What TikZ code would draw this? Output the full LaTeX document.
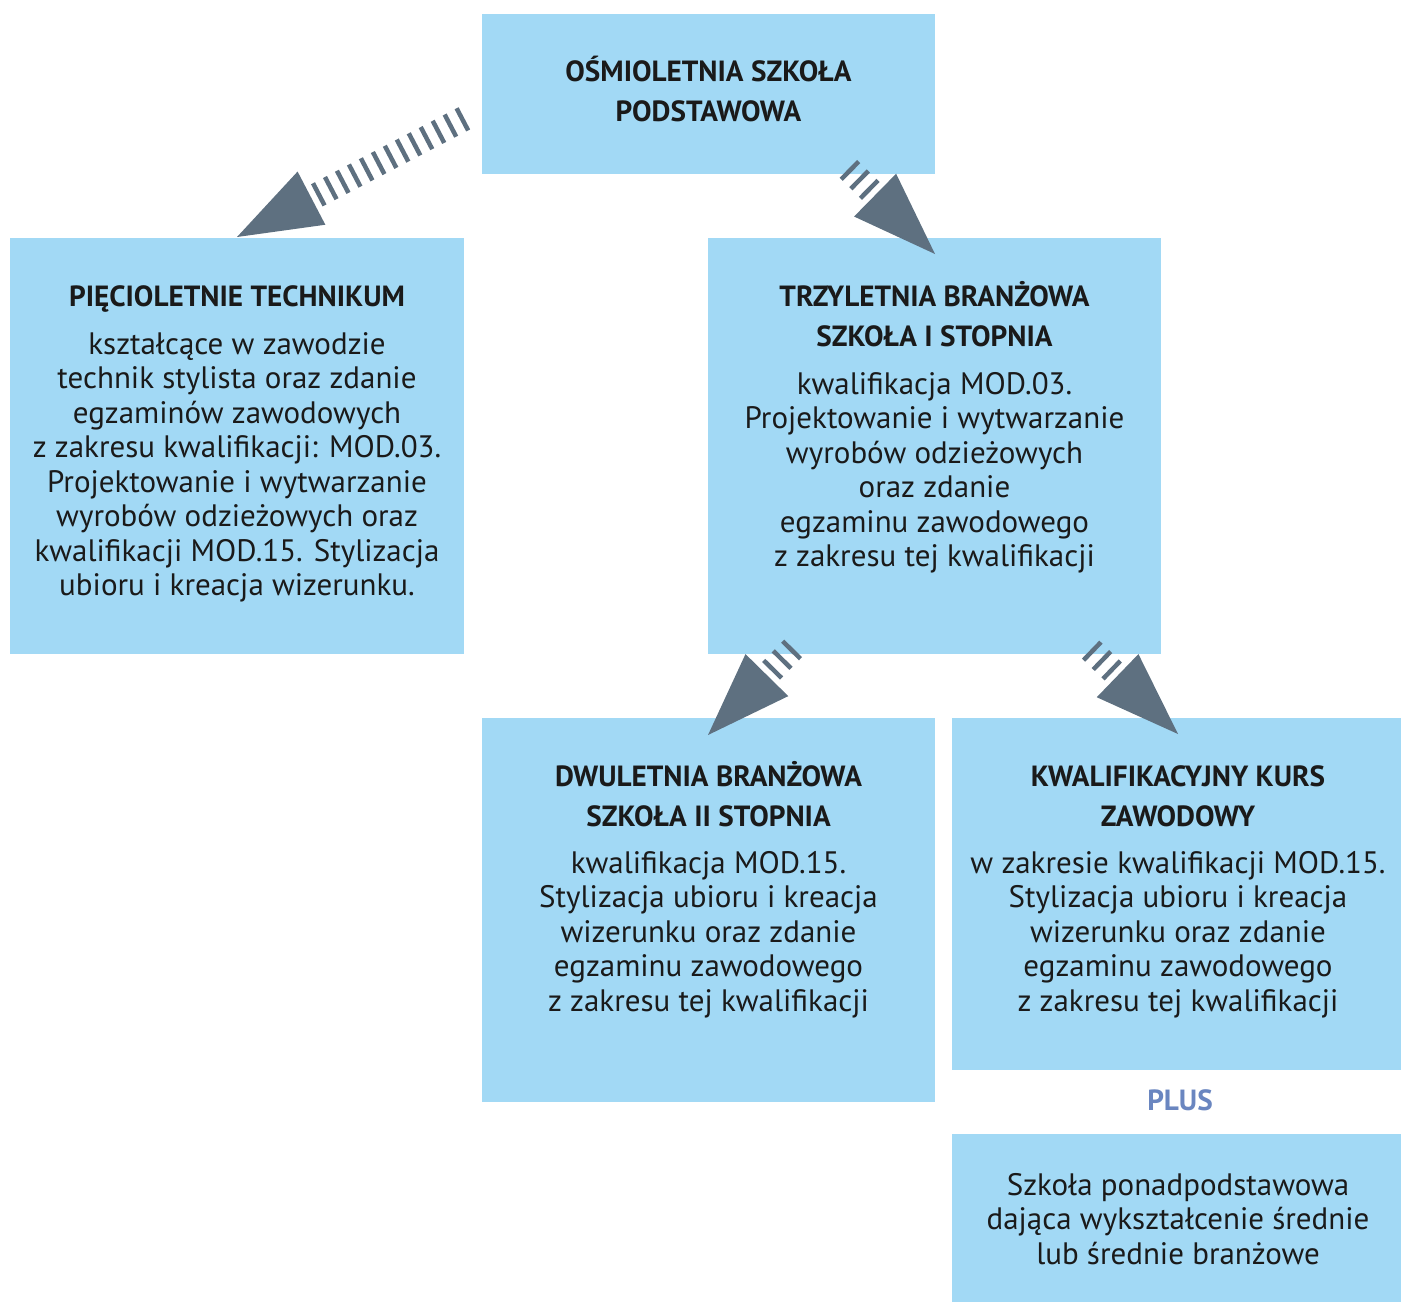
\documentclass[tikz,border=0pt]{standalone}
\usepackage{fontspec}
\setmainfont{PT Sans}
\usetikzlibrary{calc}
\definecolor{boxblue}{HTML}{A2D9F5}
\definecolor{arrowgray}{HTML}{5E7080}
\definecolor{plusblue}{HTML}{6A86C0}
\definecolor{txt}{HTML}{1A1A1A}
\newcommand{\mylines}[1]{\begin{tabular}[t]{@{}c@{}}#1\end{tabular}}
\begin{document}
\begin{tikzpicture}[x=0.5pt,y=-0.5pt,
  box/.style={fill=boxblue, draw=none, inner sep=0, outer sep=0},
  ttl/.style={anchor=base, inner sep=0, text=txt, font=\fontsize{14.6}{20}\selectfont\bfseries},
  body/.style={anchor=base, inner sep=0, text=txt, font=\fontsize{15.5}{17.25}\selectfont},
  hatch/.style={draw=arrowgray, line width=12.5pt, line cap=butt, dash pattern=on 2.25pt off 4.5pt},
  tip/.style={fill=arrowgray, draw=none}]
\useasboundingbox (0,0) rectangle (1402,1302);
% boxes
\node[box, minimum width=226.5pt, minimum height=80pt] (top) at (708.5,94) {};
\node[box, minimum width=227pt, minimum height=208pt] (tech) at (237,446) {};
\node[box, minimum width=226.5pt, minimum height=208pt] (bs1) at (934.5,446) {};
\node[box, minimum width=226.5pt, minimum height=192pt] (bs2) at (708.5,910) {};
\node[box, minimum width=224.5pt, minimum height=176pt] (kkz) at (1176.5,894) {};
\node[box, minimum width=224.5pt, minimum height=84pt] (szk) at (1176.5,1218) {};
% texts
\node[ttl] (toptxt) at (708.5,81) {\mylines{OŚMIOLETNIA SZKOŁA\\PODSTAWOWA}};
\node[ttl] (techttl) at (237,306) {PIĘCIOLETNIE TECHNIKUM};
\node[body] (techtxt) at (237,354) {\mylines{kształcące w zawodzie\\technik stylista oraz zdanie\\egzaminów zawodowych\\z zakresu kwalifikacji: MOD.03.\\Projektowanie i wytwarzanie\\wyrobów odzieżowych oraz\\kwalifikacji MOD.15. Stylizacja\\ubioru i kreacja wizerunku.}};
\node[ttl] (bs1ttl) at (934.5,306) {\mylines{TRZYLETNIA BRANŻOWA\\SZKOŁA I STOPNIA}};
\node[body] (bs1txt) at (934.5,394) {\mylines{kwalifikacja MOD.03.\\Projektowanie i wytwarzanie\\wyrobów odzieżowych\\oraz zdanie\\egzaminu zawodowego\\z zakresu tej kwalifikacji}};
\node[ttl] (bs2ttl) at (708.5,786) {\mylines{DWULETNIA BRANŻOWA\\SZKOŁA II STOPNIA}};
\node[body] (bs2txt) at (708.5,873) {\mylines{kwalifikacja MOD.15.\\Stylizacja ubioru i kreacja\\wizerunku oraz zdanie\\egzaminu zawodowego\\z zakresu tej kwalifikacji}};
\node[ttl] (kkzttl) at (1178,786) {\mylines{KWALIFIKACYJNY KURS\\ZAWODOWY}};
\node[body] (kkztxt) at (1178,873) {\mylines{w zakresie kwalifikacji MOD.15.\\Stylizacja ubioru i kreacja\\wizerunku oraz zdanie\\egzaminu zawodowego\\z zakresu tej kwalifikacji}};
\node[ttl, text=plusblue] (plus) at (1180,1110) {PLUS};
\node[body] (szktxt) at (1178,1195) {\mylines{Szkoła ponadpodstawowa\\dająca wykształcenie średnie\\lub średnie branżowe}};
% arrow end points
\coordinate (s1) at (465,118);   \coordinate (t1) at (237,237);
\coordinate (s2) at (848,168.5); \coordinate (t2) at (935,254);
\coordinate (s3) at (793.5,648); \coordinate (t3) at (708,735);
\coordinate (s4) at (1090,649);  \coordinate (t4) at (1178,734);
\foreach \i in {1,2,3,4}{
  \coordinate (b\i) at ($(t\i)!42pt!(s\i)$);
  \draw[hatch] ($(t\i)!45pt!(s\i)$) -- (s\i);
  \fill[tip] (t\i) -- ($(b\i)!15pt!90:(t\i)$) -- ($(b\i)!15pt!-90:(t\i)$) -- cycle;
}
\end{tikzpicture}
\end{document}
